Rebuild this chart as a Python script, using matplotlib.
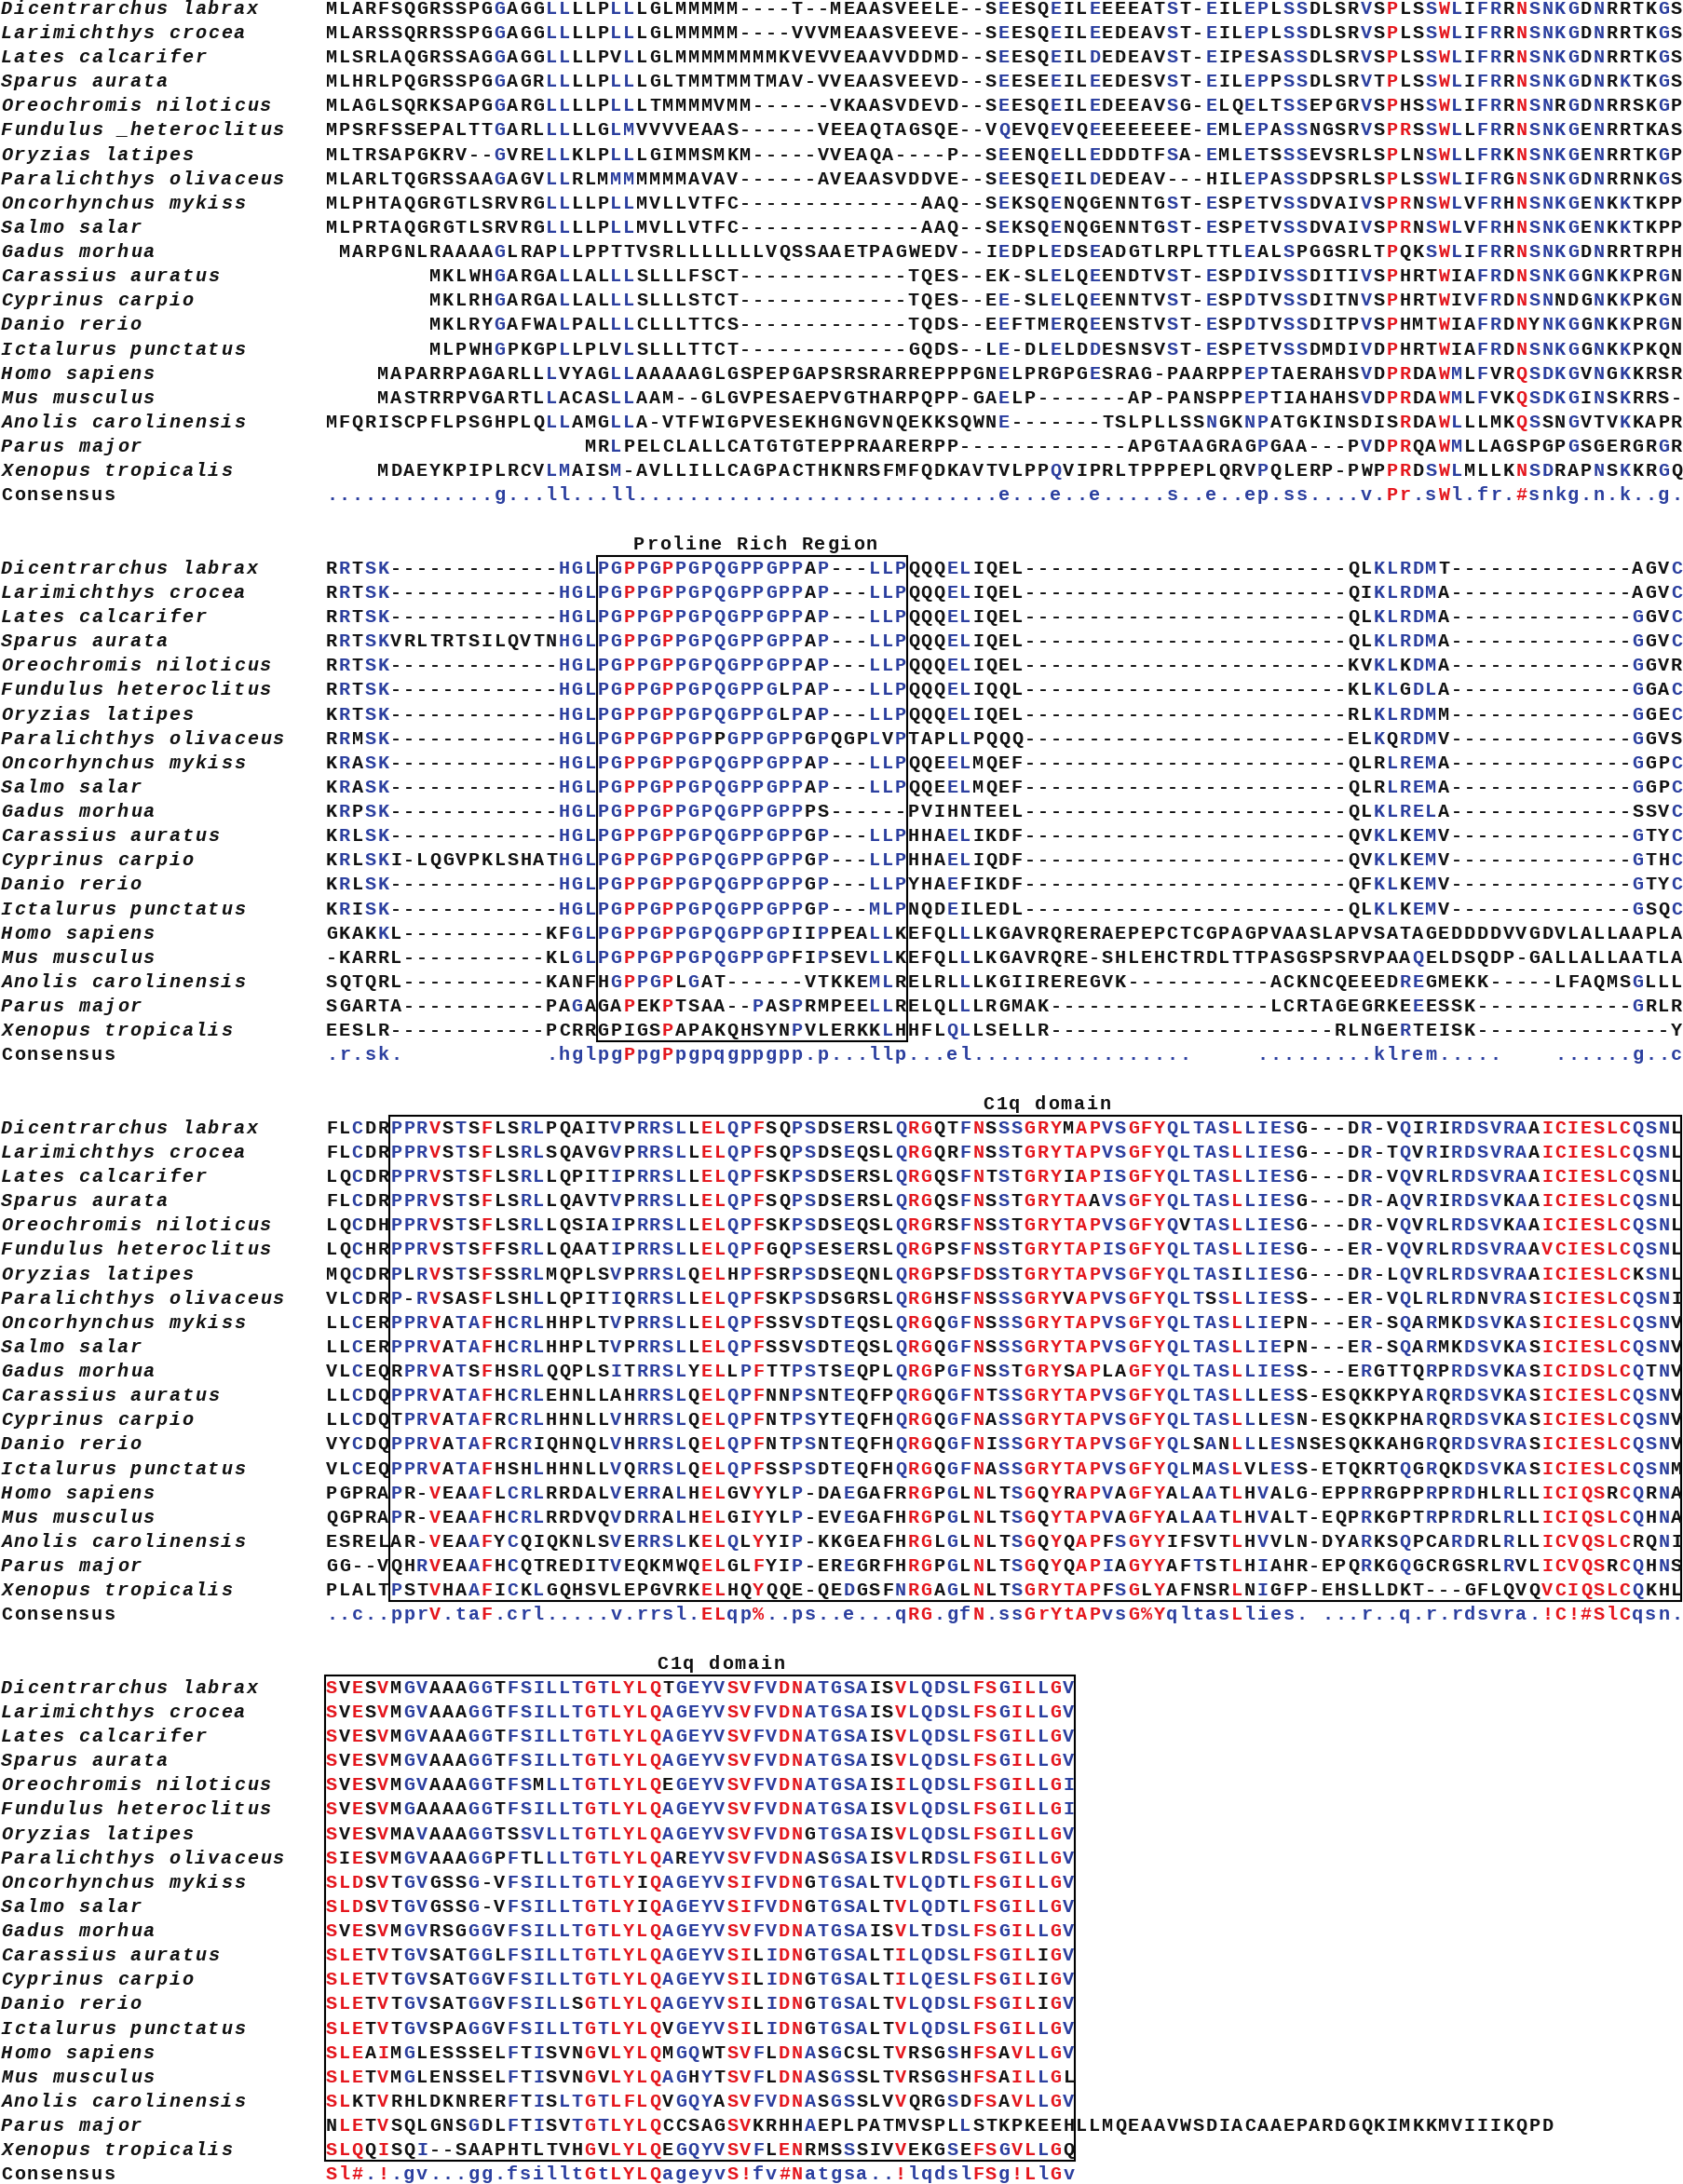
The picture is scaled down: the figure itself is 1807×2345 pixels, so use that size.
import matplotlib

matplotlib.use("Agg")
import matplotlib.pyplot as plt  # noqa: E402
from matplotlib.patches import Rectangle  # noqa: E402

# ---- layout (pixels) ----
W, H = 1807, 2345
CW = 13.886          # one alignment column
X_NAME = 0.0
X_SEQ = 349.0
Y0 = 8.2             # centre of first text row
PITCH = 26.13        # row pitch
FS = 14.5
BASE = 6.6           # baseline offset from row centre

RED = "#e5161d"
BLUE = "#2b3f9f"
BLACK = "#111111"

SPECIES = [
    "Dicentrarchus labrax", "Larimichthys crocea", "Lates calcarifer",
    "Sparus aurata", "Oreochromis niloticus", "Fundulus heteroclitus",
    "Oryzias latipes", "Paralichthys olivaceus", "Oncorhynchus mykiss",
    "Salmo salar", "Gadus morhua", "Carassius auratus", "Cyprinus carpio",
    "Danio rerio", "Ictalurus punctatus", "Homo sapiens", "Mus musculus",
    "Anolis carolinensis", "Parus major", "Xenopus tropicalis",
]

# ---- block 1 (rows are right-aligned to 105 columns) ----
B1 = [
    "MLARFSQGRSSPGGAGGLLLLPLLLGLMMMMM----T--MEAASVEELE--SEESQEILEEEEATST-EILEPLSSDLSRVSPLSSWLIFRRNSNKGDNRRTKGS",
    "MLARSSQRRSSPGGAGGLLLLPLLLGLMMMMM----VVVMEAASVEEVE--SEESQEILEEDEAVST-EILEPLSSDLSRVSPLSSWLIFRRNSNKGDNRRTKGS",
    "MLSRLAQGRSSAGGAGGLLLLPVLLGLMMMMMMMMKVEVVEAAVVDDMD--SEESQEILDEDEAVST-EIPESASSDLSRVSPLSSWLIFRRNSNKGDNRRTKGS",
    "MLHRLPQGRSSPGGAGRLLLLPLLLGLTMMTMMTMAV-VVEAASVEEVD--SEESEEILEEDESVST-EILEPPSSDLSRVTPLSSWLIFRRNSNKGDNRKTKGS",
    "MLAGLSQRKSAPGGARGLLLLPLLLTMMMMVMM------VKAASVDEVD--SEESQEILEDEEAVSG-ELQELTSSEPGRVSPHSSWLIFRRNSNRGDNRRSKGP",
    "MPSRFSSEPALTTGARLLLLLGLMVVVVEAAS------VEEAQTAGSQE--VQEVQEVQEEEEEEEE-EMLEPASSNGSRVSPRSSWLLFRRNSNKGENRRTKAS",
    "MLTRSAPGKRV--GVRELLKLPLLLGIMMSMKM-----VVEAQA----P--SEENQELLEDDDTFSA-EMLETSSSEVSRLSPLNSWLLFRKNSNKGENRRTKGP",
    "MLARLTQGRSSAAGAGVLLRLMMMMMMMAVAV------AVEAASVDDVE--SEESQEILDEDEAV---HILEPASSDPSRLSPLSSWLIFRGNSNKGDNRRNKGS",
    "MLPHTAQGRGTLSRVRGLLLLPLLMVLLVTFC--------------AAQ--SEKSQENQGENNTGST-ESPETVSSDVAIVSPRNSWLVFRHNSNKGENKKTKPP",
    "MLPRTAQGRGTLSRVRGLLLLPLLMVLLVTFC--------------AAQ--SEKSQENQGENNTGST-ESPETVSSDVAIVSPRNSWLVFRHNSNKGENKKTKPP",
    "MARPGNLRAAAAGLRAPLLPPTTVSRLLLLLLLVQSSAAETPAGWEDV--IEDPLEDSEADGTLRPLTTLEALSPGGSRLTPQKSWLIFRRNSNKGDNRRTRPH",
    "MKLWHGARGALLALLLSLLLFSCT-------------TQES--EK-SLELQEENDTVST-ESPDIVSSDITIVSPHRTWIAFRDNSNKGGNKKPRGN",
    "MKLRHGARGALLALLLSLLLSTCT-------------TQES--EE-SLELQEENNTVST-ESPDTVSSDITNVSPHRTWIVFRDNSNNDGNKKPKGN",
    "MKLRYGAFWALPALLLCLLLTTCS-------------TQDS--EEFTMERQEENSTVST-ESPDTVSSDITPVSPHMTWIAFRDNYNKGGNKKPRGN",
    "MLPWHGPKGPLLPLVLSLLLTTCT-------------GQDS--LE-DLELDDESNSVST-ESPETVSSDMDIVDPHRTWIAFRDNSNKGGNKKPKQN",
    "MAPARRPAGARLLLVYAGLLAAAAAGLGSPEPGAPSRSRARREPPPGNELPRGPGESRAG-PAARPPEPTAERAHSVDPRDAWMLFVRQSDKGVNGKKRSR",
    "MASTRRPVGARTLLACASLLAAM--GLGVPESAEPVGTHARPQPP-GAELP-------AP-PANSPPEPTIAHAHSVDPRDAWMLFVKQSDKGINSKRRS-",
    "MFQRISCPFLPSGHPLQLLAMGLLA-VTFWIGPVESEKHGNGVNQEKKSQWNE-------TSLPLLSSNGKNPATGKINSDISRDAWLLLMKQSSNGVTVKKAPR",
    "MRLPELCLALLCATGTGTEPPRAARERPP-------------APGTAAGRAGPGAA---PVDPRQAWMLLAGSPGPGSGERGRGR",
    "MDAEYKPIPLRCVLMAISM-AVLLILLCAGPACTHKNRSFMFQDKAVTVLPPQVIPRLTPPPEPLQRVPQLERP-PWPPRDSWLMLLKNSDRAPNSKKRGQ",
]
B1_CONS = ("." * 13 + "g..." + "ll..." + "ll" + "." * 27
           + ".e...e..e.....s..e..ep.ss....v.Pr.sWl.fr.#snkg.n.k..g.")
B1_RED = [82, 83, 86, 92]

# ---- block 2 (Proline rich region) ----
B2_START = ["RRTSK", "RRTSK", "RRTSK", "RRTSK", "RRTSK", "RRTSK", "KRTSK", "RRMSK",
            "KRASK", "KRASK", "KRPSK", "KRLSK", "KRLSK", "KRLSK", "KRISK"]
B2_INSERT = ["-" * 13, "-" * 13, "-" * 13, "VRLTRTSILQVTN", "-" * 13, "-" * 13, "-" * 13,
             "-" * 13, "-" * 13, "-" * 13, "-" * 13, "-" * 13, "I-LQGVPKLSHAT",
             "-" * 13, "-" * 13]
B2_BOX = ["PGPPGPPGPQGPPGPPAP---LLP", "PGPPGPPGPQGPPGPPAP---LLP",
          "PGPPGPPGPQGPPGPPAP---LLP", "PGPPGPPGPQGPPGPPAP---LLP",
          "PGPPGPPGPQGPPGPPAP---LLP", "PGPPGPPGPQGPPGLPAP---LLP",
          "PGPPGPPGPQGPPGLPAP---LLP", "PGPPGPPGPPGPPGPPGPQGPLVP",
          "PGPPGPPGPQGPPGPPAP---LLP", "PGPPGPPGPQGPPGPPAP---LLP",
          "PGPPGPPGPQGPPGPPPS------", "PGPPGPPGPQGPPGPPGP---LLP",
          "PGPPGPPGPQGPPGPPGP---LLP", "PGPPGPPGPQGPPGPPGP---LLP",
          "PGPPGPPGPQGPPGPPGP---MLP"]
B2_AFTER = ["QQQELIQEL", "QQQELIQEL", "QQQELIQEL", "QQQELIQEL", "QQQELIQEL",
            "QQQELIQQL", "QQQELIQEL", "TAPLLPQQQ", "QQEELMQEF", "QQEELMQEF",
            "PVIHNTEEL", "HHAELIKDF", "HHAELIQDF", "YHAEFIKDF", "NQDEILEDL"]
B2_MOTIF = ["QLKLRDMT", "QIKLRDMA", "QLKLRDMA", "QLKLRDMA", "KVKLKDMA", "KLKLGDLA",
            "RLKLRDMM", "ELKQRDMV", "QLRLREMA", "QLRLREMA", "QLKLRELA", "QVKLKEMV",
            "QVKLKEMV", "QFKLKEMV", "QLKLKEMV"]
B2_END = ["AGVC", "AGVC", "GGVC", "GGVC", "GGVR", "GGAC", "GGEC", "GGVS", "GGPC",
          "GGPC", "SSVC", "GTYC", "GTHC", "GTYC", "GSQC"]
B2_TETRAPODS = [
    "GKAKKL" + "-" * 11 + "KFGL" + "PGPPGPPGPQGPPGPIIPPEALLK"
    + "EFQLLLKGAVRQRERAEPEPCTCGPAGPVAASLAPVSATAGEDDDDVVGDVLALLAAPLA",
    "-KARRL" + "-" * 11 + "KLGL" + "PGPPGPPGPQGPPGPFIPSEVLLK"
    + "EFQLLLKGAVRQRE-SHLEHCTRDLTTPASGSPSRVPAAQELDSQDP-GALLALLAATLA",
    "SQTQRL" + "-" * 11 + "KANF" + "HGPPGPLGAT------VTKKEMLR" + "ELRLLLKGIIREREGVK"
    + "-" * 11 + "ACKNCQEEEDREGMEKK" + "-" * 5 + "LFAQMSGLLL",
    "SGARTA" + "-" * 11 + "PAGA" + "GAPEKPTSAA--PASPRMPEELLR" + "ELQLLLRGMAK"
    + "-" * 17 + "LCRTAGEGRKEEESSK" + "-" * 12 + "GRLR",
    "EESLR" + "-" * 12 + "PCRR" + "GPIGSPAPAKQHSYNPVLERKKLH" + "HFLQLLSELLR"
    + "-" * 22 + "RLNGERTEISK" + "-" * 15 + "Y",
]
B2_CONS = (".r.sk." + " " * 11 + ".hglpgPpgPpgpqgppgpp.p...llp...el" + "." * 17
           + " " * 5 + "." * 9 + "klrem" + "." * 5 + " " * 4 + "." * 6 + "g..c")
B2_RED = [23, 26]

# ---- block 3 (C1q domain, part 1) ----
B3 = [
    "FLCDRPPRVSTSFLSRLPQAITVPRRSLLELQPFSQPSDSERSLQRGQTFNSSSGRYMAPVSGFYQLTASLLIESG---DR-VQIRIRDSVRAAICIESLCQSNL",
    "FLCDRPPRVSTSFLSRLSQAVGVPRRSLLELQPFSQPSDSEQSLQRGQRFNSSTGRYTAPVSGFYQLTASLLIESG---DR-TQVRIRDSVRAAICIESLCQSNL",
    "LQCDRPPRVSTSFLSRLLQPITIPRRSLLELQPFSKPSDSERSLQRGQSFNTSTGRYIAPISGFYQLTASLLIESG---DR-VQVRLRDSVRAAICIESLCQSNL",
    "FLCDRPPRVSTSFLSRLLQAVTVPRRSLLELQPFSQPSDSERSLQRGQSFNSSTGRYTAAVSGFYQLTASLLIESG---DR-AQVRIRDSVKAAICIESLCQSNL",
    "LQCDHPPRVSTSFLSRLLQSIAIPRRSLLELQPFSKPSDSEQSLQRGRSFNSSTGRYTAPVSGFYQVTASLLIESG---DR-VQVRLRDSVKAAICIESLCQSNL",
    "LQCHRPPRVSTSFFSRLLQAATIPRRSLLELQPFGQPSESERSLQRGPSFNSSTGRYTAPISGFYQLTASLLIESG---ER-VQVRLRDSVRAAVCIESLCQSNL",
    "MQCDRPLRVSTSFSSRLMQPLSVPRRSLQELHPFSRPSDSEQNLQRGPSFDSSTGRYTAPVSGFYQLTASILIESG---DR-LQVRLRDSVRAAICIESLCKSNL",
    "VLCDRP-RVSASFLSHLLQPITIQRRSLLELQPFSKPSDSGRSLQRGHSFNSSSGRYVAPVSGFYQLTSSLLIESS---ER-VQLRLRDNVRASICIESLCQSNI",
    "LLCERPPRVATAFHCRLHHPLTVPRRSLLELQPFSSVSDTEQSLQRGQGFNSSSGRYTAPVSGFYQLTASLLIEPN---ER-SQARMKDSVKASICIESLCQSNV",
    "LLCERPPRVATAFHCRLHHPLTVPRRSLLELQPFSSVSDTEQSLQRGQGFNSSSGRYTAPVSGFYQLTASLLIEPN---ER-SQARMKDSVKASICIESLCQSNV",
    "VLCEQRPRVATSFHSRLQQPLSITRRSLYELLPFTTPSTSEQPLQRGPGFNSSTGRYSAPLAGFYQLTASLLIESS---ERGTTQRPRDSVKASICIDSLCQTNV",
    "LLCDQPPRVATAFHCRLEHNLLAHRRSLQELQPFNNPSNTEQFPQRGQGFNTSSGRYTAPVSGFYQLTASLLLESS-ESQKKPYARQRDSVKASICIESLCQSNV",
    "LLCDQTPRVATAFRCRLHHNLLVHRRSLQELQPFNTPSYTEQFHQRGQGFNASSGRYTAPVSGFYQLTASLLLESN-ESQKKPHARQRDSVKASICIESLCQSNV",
    "VYCDQPPRVATAFRCRIQHNQLVHRRSLQELQPFNTPSNTEQFHQRGQGFNISSGRYTAPVSGFYQLSANLLLESNSESQKKAHGRQRDSVRASICIESLCQSNV",
    "VLCEQPPRVATAFHSHLHHNLLVQRRSLQELQPFSSPSDTEQFHQRGQGFNASSGRYTAPVSGFYQLMASLVLESS-ETQKRTQGRQKDSVKASICIESLCQSNM",
    "PGPRAPR-VEAAFLCRLRRDALVERRALHELGVYYLP-DAEGAFRRGPGLNLTSGQYRAPVAGFYALAATLHVALG-EPPRRGPPRPRDHLRLLICIQSRCQRNA",
    "QGPRAPR-VEAAFHCRLRRDVQVDRRALHELGIYYLP-EVEGAFHRGPGLNLTSGQYTAPVAGFYALAATLHVALT-EQPRKGPTRPRDRLRLLICIQSLCQHNA",
    "ESRELAR-VEAAFYCQIQKNLSVERRSLKELQLYYIP-KKGEAFHRGLGLNLTSGQYQAPFSGYYIFSVTLHVVLN-DYARKSQPCARDRLRLLICVQSLCRQNI",
    "GG--VQHRVEAAFHCQTREDITVEQKMWQELGLFYIP-EREGRFHRGPGLNLTSGQYQAPIAGYYAFTSTLHIAHR-EPQRKGQGCRGSRLRVLICVQSRCQHNS",
    "PLALTPSTVHAAFICKLGQHSVLEPGVRKELHQYQQE-QEDGSFNRGAGLNLTSGRYTAPFSGLYAFNSRLNIGFP-EHSLLDKT---GFLQVQVCIQSLCQKHL",
]
B3_CONS = ("..c..pprV.taF.crl.....v.rrsl.ELqp%..ps..e...qRG.gfN"
           + ".ssGrYtAPvsG%YqltasLlies. ...r..q.r.rdsvra.!C!#SlCqsn.")
B3_RED = [8, 12, 29, 30, 33, 45, 46, 50, 54, 55, 56, 57, 58, 59, 62, 63, 64, 70,
          94, 95, 96, 97, 98, 99, 100]

# ---- block 4 (C1q domain, part 2) ----
B4 = [
    "SVESVMGVAAAGGTFSILLTGTLYLQTGEYVSVFVDNATGSAISVLQDSLFSGILLGV",
    "SVESVMGVAAAGGTFSILLTGTLYLQAGEYVSVFVDNATGSAISVLQDSLFSGILLGV",
    "SVESVMGVAAAGGTFSILLTGTLYLQAGEYVSVFVDNATGSAISVLQDSLFSGILLGV",
    "SVESVMGVAAAGGTFSILLTGTLYLQAGEYVSVFVDNATGSAISVLQDSLFSGILLGV",
    "SVESVMGVAAAGGTFSMLLTGTLYLQEGEYVSVFVDNATGSAISILQDSLFSGILLGI",
    "SVESVMGAAAAGGTFSILLTGTLYLQAGEYVSVFVDNATGSAISVLQDSLFSGILLGI",
    "SVESVMAVAAAGGTSSVLLTGTLYLQAGEYVSVFVDNGTGSAISVLQDSLFSGILLGV",
    "SIESVMGVAAAGGPFTLLLTGTLYLQAREYVSVFVDNASGSAISVLRDSLFSGILLGV",
    "SLDSVTGVGSSG-VFSILLTGTLYIQAGEYVSIFVDNGTGSALTVLQDTLFSGILLGV",
    "SLDSVTGVGSSG-VFSILLTGTLYIQAGEYVSIFVDNGTGSALTVLQDTLFSGILLGV",
    "SVESVMGVRSGGGVFSILLTGTLYLQAGEYVSVFVDNATGSAISVLTDSLFSGILLGV",
    "SLETVTGVSATGGLFSILLTGTLYLQAGEYVSILIDNGTGSALTILQDSLFSGILIGV",
    "SLETVTGVSATGGVFSILLTGTLYLQAGEYVSILIDNGTGSALTILQESLFSGILIGV",
    "SLETVTGVSATGGVFSILLSGTLYLQAGEYVSILIDNGTGSALTVLQDSLFSGILIGV",
    "SLETVTGVSPAGGVFSILLTGTLYLQVGEYVSILIDNGTGSALTVLQDSLFSGILLGV",
    "SLEAIMGLESSSELFTISVNGVLYLQMGQWTSVFLDNASGCSLTVRSGSHFSAVLLGV",
    "SLETVMGLENSSELFTISVNGVLYLQAGHYTSVFLDNASGSSLTVRSGSHFSAILLGL",
    "SLKTVRHLDKNRERFTISLTGTLFLQVGQYASVFVDNASGSSLVVQRGSDFSAVLLGV",
    "NLETVSQLGNSGDLFTISVTGTLYLQCCSAGSVKRHHAEPLPATMVSPLLSTKPKEEHLLMQEAAVWSDIACAAEPARDGQKIMKKMVIIIKQPD",
    "SLQQISQI--SAAPHTLTVHGVLYLQEGQYVSVFLENRMSSSIVVEKGSEFSGVLLGQ",
]
B4_CONS = "Sl#.!.gv...gg.fsilltGtLYLQageyvS!fv#Natgsa..!lqdslFSg!LlGv"
B4_RED = [0, 1, 2, 4, 20, 22, 23, 24, 25, 31, 32, 35, 36, 44, 50, 51, 53, 54, 56]

HEADERS = [("Proline Rich Region", 1, 811), ("C1q domain", 2, 1124),
           ("C1q domain", 3, 774)]
# boxes: (block, first column, last column + 1)
BOXES = [(1, 21, 45), (2, 5, 105), (3, 0, 58)]

GROUPS = ["IV", "LM", "FY", "NDQEBZ"]
SYMBOLS = {"!": "IV", "$": "LM", "%": "FY", "#": "NDQEBZ"}


def matches(res, c):
    if c in SYMBOLS:
        return res in SYMBOLS[c]
    if not c.isalpha():
        return False
    u = c.upper()
    if res == u:
        return True
    return any(u in g and res in g for g in GROUPS)


def row_y(block, row):
    return Y0 + PITCH * (23 * block + row)


def put(ax, x0, y, text, colors, **font):
    for i, ch in enumerate(text):
        if ch == " ":
            continue
        ax.text(x0 + (i + 0.5) * CW, y + BASE, ch, color=colors[i],
                ha="center", va="baseline", fontsize=FS, **font)


def draw_block(ax, b, rows, cons, red_cols, names):
    red = set(red_cols)
    seq_font = dict(family="Liberation Mono", fontweight="bold")
    name_font = dict(family="Liberation Mono", fontweight="bold", fontstyle="italic")
    for r, (name, seq) in enumerate(zip(names, rows)):
        y = row_y(b, r)
        put(ax, X_NAME, y, name, [BLACK] * len(name), **name_font)
        cols = []
        for i, ch in enumerate(seq):
            c = cons[i] if i < len(cons) else " "
            if ch.isalpha() and matches(ch, c):
                cols.append(RED if i in red else BLUE)
            else:
                cols.append(BLACK)
        put(ax, X_SEQ, y, seq, cols, **seq_font)
    y = row_y(b, 20)
    put(ax, X_NAME, y, "Consensus", [BLACK] * 9, **seq_font)
    put(ax, X_SEQ, y, cons, [RED if i in red else BLUE for i in range(len(cons))],
        **seq_font)


b2 = [s + m + "HGL" + bx + a + "-" * 25 + mo + "-" * 14 + e
      for s, m, bx, a, mo, e in zip(B2_START, B2_INSERT, B2_BOX, B2_AFTER, B2_MOTIF, B2_END)]
b2 += B2_TETRAPODS
b1 = [s.rjust(105) for s in B1]

names1 = list(SPECIES)
names1[5] = "Fundulus _heteroclitus"

fig = plt.figure(figsize=(W / 100, H / 100), dpi=100)
ax = fig.add_axes([0, 0, 1, 1])
ax.set_xlim(0, W)
ax.set_ylim(H, 0)
ax.axis("off")

draw_block(ax, 0, b1, B1_CONS, B1_RED, names1)
draw_block(ax, 1, b2, B2_CONS, B2_RED, SPECIES)
draw_block(ax, 2, B3, B3_CONS, B3_RED, SPECIES)
draw_block(ax, 3, B4, B4_CONS, B4_RED, SPECIES)

for text, b, xc in HEADERS:
    x0 = xc - len(text) * CW / 2
    put(ax, x0, row_y(b, -1), text, [BLACK] * len(text),
        family="Liberation Mono", fontweight="bold")

for b, c0, c1 in BOXES:
    top = row_y(b, 0) - 12
    bot = row_y(b, 19) + 12
    x0 = X_SEQ + c0 * CW
    x1 = min(X_SEQ + c1 * CW, W - 1.5)
    ax.add_patch(Rectangle((x0, top), x1 - x0, bot - top, fill=False,
                           edgecolor="black", linewidth=1.5))

fig.savefig("out.png", dpi=100)
plt.close(fig)
